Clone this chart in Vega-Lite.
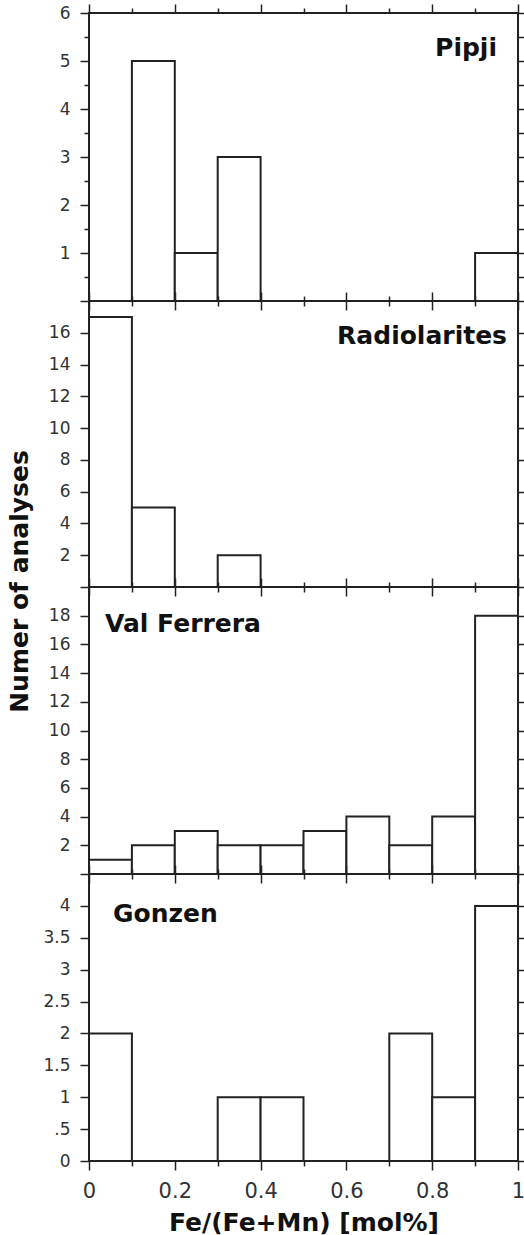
{
  "$schema": "https://vega.github.io/schema/vega-lite/v6.json",
  "padding": {"left": 6, "top": 2, "right": 0, "bottom": 0},
  "spacing": 0,
  "bounds": "flush",
  "config": {
    "font": "DejaVu Sans",
    "view": {"stroke": "#222", "strokeWidth": 2},
    "axis": {"grid": false, "domain": false, "tickColor": "#222", "tickWidth": 1.5, "labelColor": "#333", "labelFont": "DejaVu Sans", "labelFontSize": 17, "titleFont": "DejaVu Sans", "titleFontWeight": "bold", "titleFontSize": 25, "titleColor": "#111", "format": "~g"},
    "title": {"font": "DejaVu Sans", "fontSize": 25, "fontWeight": "bold", "color": "#111"}
  },
  "datasets": {
    "bins": [
      {"panel": "Pipji", "x0": 0.0, "x1": 0.1, "count": 0},
      {"panel": "Pipji", "x0": 0.1, "x1": 0.2, "count": 5},
      {"panel": "Pipji", "x0": 0.2, "x1": 0.3, "count": 1},
      {"panel": "Pipji", "x0": 0.3, "x1": 0.4, "count": 3},
      {"panel": "Pipji", "x0": 0.4, "x1": 0.5, "count": 0},
      {"panel": "Pipji", "x0": 0.5, "x1": 0.6, "count": 0},
      {"panel": "Pipji", "x0": 0.6, "x1": 0.7, "count": 0},
      {"panel": "Pipji", "x0": 0.7, "x1": 0.8, "count": 0},
      {"panel": "Pipji", "x0": 0.8, "x1": 0.9, "count": 0},
      {"panel": "Pipji", "x0": 0.9, "x1": 1.0, "count": 1},
      {"panel": "Radiolarites", "x0": 0.0, "x1": 0.1, "count": 17},
      {"panel": "Radiolarites", "x0": 0.1, "x1": 0.2, "count": 5},
      {"panel": "Radiolarites", "x0": 0.2, "x1": 0.3, "count": 0},
      {"panel": "Radiolarites", "x0": 0.3, "x1": 0.4, "count": 2},
      {"panel": "Radiolarites", "x0": 0.4, "x1": 0.5, "count": 0},
      {"panel": "Radiolarites", "x0": 0.5, "x1": 0.6, "count": 0},
      {"panel": "Radiolarites", "x0": 0.6, "x1": 0.7, "count": 0},
      {"panel": "Radiolarites", "x0": 0.7, "x1": 0.8, "count": 0},
      {"panel": "Radiolarites", "x0": 0.8, "x1": 0.9, "count": 0},
      {"panel": "Radiolarites", "x0": 0.9, "x1": 1.0, "count": 0},
      {"panel": "Val Ferrera", "x0": 0.0, "x1": 0.1, "count": 1},
      {"panel": "Val Ferrera", "x0": 0.1, "x1": 0.2, "count": 2},
      {"panel": "Val Ferrera", "x0": 0.2, "x1": 0.3, "count": 3},
      {"panel": "Val Ferrera", "x0": 0.3, "x1": 0.4, "count": 2},
      {"panel": "Val Ferrera", "x0": 0.4, "x1": 0.5, "count": 2},
      {"panel": "Val Ferrera", "x0": 0.5, "x1": 0.6, "count": 3},
      {"panel": "Val Ferrera", "x0": 0.6, "x1": 0.7, "count": 4},
      {"panel": "Val Ferrera", "x0": 0.7, "x1": 0.8, "count": 2},
      {"panel": "Val Ferrera", "x0": 0.8, "x1": 0.9, "count": 4},
      {"panel": "Val Ferrera", "x0": 0.9, "x1": 1.0, "count": 18},
      {"panel": "Gonzen", "x0": 0.0, "x1": 0.1, "count": 2},
      {"panel": "Gonzen", "x0": 0.1, "x1": 0.2, "count": 0},
      {"panel": "Gonzen", "x0": 0.2, "x1": 0.3, "count": 0},
      {"panel": "Gonzen", "x0": 0.3, "x1": 0.4, "count": 1},
      {"panel": "Gonzen", "x0": 0.4, "x1": 0.5, "count": 1},
      {"panel": "Gonzen", "x0": 0.5, "x1": 0.6, "count": 0},
      {"panel": "Gonzen", "x0": 0.6, "x1": 0.7, "count": 0},
      {"panel": "Gonzen", "x0": 0.7, "x1": 0.8, "count": 2},
      {"panel": "Gonzen", "x0": 0.8, "x1": 0.9, "count": 1},
      {"panel": "Gonzen", "x0": 0.9, "x1": 1.0, "count": 4}
    ]
  },
  "vconcat": [
    {
      "width": 429, "height": 288,
      "title": {"text": "Pipji", "anchor": "end", "frame": "group", "orient": "top", "baseline": "alphabetic", "offset": -78, "dx": -21},
      "data": {"name": "bins"},
      "transform": [{"filter": "datum.panel === 'Pipji'"}],
      "resolve": {"axis": {"x": "independent", "y": "independent"}},
      "layer": [
        {
          "mark": {"type": "rect", "fill": "white", "stroke": "#222", "strokeWidth": 2},
          "encoding": {
            "x": {"field": "x0", "type": "quantitative", "scale": {"domain": [0, 1], "nice": false, "zero": false},
                  "axis": {"orient": "bottom", "values": [0, 0.1, 0.2, 0.3, 0.4, 0.5, 0.6, 0.7, 0.8, 0.9, 1], "labels": false, "title": null,
                           "tickSize": {"condition": {"test": "round(datum.value*10) % 2 === 0", "value": 9}, "value": 5}}},
            "x2": {"field": "x1"},
            "y": {"field": "count", "type": "quantitative", "scale": {"domain": [0, 6], "nice": false},
                  "axis": {"orient": "left", "values": [0, 0.5, 1, 1.5, 2, 2.5, 3, 3.5, 4, 4.5, 5, 5.5, 6], "title": null, "labelPadding": 10,
                           "labelExpr": "datum.value % 1 === 0 && datum.value > 0 ? datum.label : ''",
                           "tickSize": {"condition": {"test": "datum.value % 1 === 0", "value": 9}, "value": 5}}},
            "y2": {"datum": 0}
          }
        },
        {
          "mark": {"type": "rect", "opacity": 0},
          "encoding": {
            "x": {"field": "x0", "type": "quantitative", "scale": {"domain": [0, 1], "nice": false, "zero": false},
                  "axis": {"orient": "top", "values": [0, 0.1, 0.2, 0.3, 0.4, 0.5, 0.6, 0.7, 0.8, 0.9, 1], "labels": false, "title": null,
                           "tickSize": {"condition": {"test": "round(datum.value*10) % 2 === 0", "value": 9}, "value": 5}}},
            "x2": {"field": "x1"},
            "y": {"field": "count", "type": "quantitative", "scale": {"domain": [0, 6], "nice": false},
                  "axis": {"orient": "right", "values": [0, 0.5, 1, 1.5, 2, 2.5, 3, 3.5, 4, 4.5, 5, 5.5, 6], "labels": false, "title": null, "tickSize": 6}},
            "y2": {"datum": 0}
          }
        }
      ]
    },
    {
      "width": 429, "height": 286,
      "title": {"text": "Radiolarites", "anchor": "end", "frame": "group", "orient": "top", "baseline": "alphabetic", "offset": -78, "dx": -11},
      "data": {"name": "bins"},
      "transform": [{"filter": "datum.panel === 'Radiolarites'"}],
      "resolve": {"axis": {"x": "independent", "y": "independent"}},
      "layer": [
        {
          "mark": {"type": "rect", "fill": "white", "stroke": "#222", "strokeWidth": 2},
          "encoding": {
            "x": {"field": "x0", "type": "quantitative", "scale": {"domain": [0, 1], "nice": false, "zero": false},
                  "axis": {"orient": "bottom", "values": [0, 0.1, 0.2, 0.3, 0.4, 0.5, 0.6, 0.7, 0.8, 0.9, 1], "labels": false, "title": null,
                           "tickSize": {"condition": {"test": "round(datum.value*10) % 2 === 0", "value": 9}, "value": 5}}},
            "x2": {"field": "x1"},
            "y": {"field": "count", "type": "quantitative", "scale": {"domain": [0, 18], "nice": false},
                  "axis": {"orient": "left", "values": [0, 2, 4, 6, 8, 10, 12, 14, 16], "title": "Numer of analyses", "labelPadding": 10,
                           "titleX": -57, "titleY": 280,
                           "labelExpr": "datum.value > 0 ? datum.label : ''", "tickSize": 9}},
            "y2": {"datum": 0}
          }
        },
        {
          "mark": {"type": "rect", "opacity": 0},
          "encoding": {
            "x": {"field": "x0", "type": "quantitative", "scale": {"domain": [0, 1], "nice": false, "zero": false},
                  "axis": {"orient": "top", "values": [0, 0.1, 0.2, 0.3, 0.4, 0.5, 0.6, 0.7, 0.8, 0.9, 1], "labels": false, "title": null,
                           "tickSize": {"condition": {"test": "round(datum.value*10) % 2 === 0", "value": 9}, "value": 5}}},
            "x2": {"field": "x1"},
            "y": {"field": "count", "type": "quantitative", "scale": {"domain": [0, 18], "nice": false},
                  "axis": {"orient": "right", "values": [0, 2, 4, 6, 8, 10, 12, 14, 16], "labels": false, "title": null, "tickSize": 6}},
            "y2": {"datum": 0}
          }
        }
      ]
    },
    {
      "width": 429, "height": 287,
      "title": {"text": "Val Ferrera", "anchor": "start", "frame": "group", "orient": "top", "baseline": "alphabetic", "offset": -80, "dx": 16},
      "data": {"name": "bins"},
      "transform": [{"filter": "datum.panel === 'Val Ferrera'"}],
      "resolve": {"axis": {"x": "independent", "y": "independent"}},
      "layer": [
        {
          "mark": {"type": "rect", "fill": "white", "stroke": "#222", "strokeWidth": 2},
          "encoding": {
            "x": {"field": "x0", "type": "quantitative", "scale": {"domain": [0, 1], "nice": false, "zero": false},
                  "axis": {"orient": "bottom", "values": [0, 0.1, 0.2, 0.3, 0.4, 0.5, 0.6, 0.7, 0.8, 0.9, 1], "labels": false, "title": null,
                           "tickSize": {"condition": {"test": "round(datum.value*10) % 2 === 0", "value": 9}, "value": 5}}},
            "x2": {"field": "x1"},
            "y": {"field": "count", "type": "quantitative", "scale": {"domain": [0, 20], "nice": false},
                  "axis": {"orient": "left", "values": [0, 2, 4, 6, 8, 10, 12, 14, 16, 18], "title": null, "labelPadding": 10,
                           "labelExpr": "datum.value > 0 ? datum.label : ''", "tickSize": 9}},
            "y2": {"datum": 0}
          }
        },
        {
          "mark": {"type": "rect", "opacity": 0},
          "encoding": {
            "x": {"field": "x0", "type": "quantitative", "scale": {"domain": [0, 1], "nice": false, "zero": false},
                  "axis": {"orient": "top", "values": [0, 0.1, 0.2, 0.3, 0.4, 0.5, 0.6, 0.7, 0.8, 0.9, 1], "labels": false, "title": null,
                           "tickSize": {"condition": {"test": "round(datum.value*10) % 2 === 0", "value": 9}, "value": 5}}},
            "x2": {"field": "x1"},
            "y": {"field": "count", "type": "quantitative", "scale": {"domain": [0, 20], "nice": false},
                  "axis": {"orient": "right", "values": [0, 2, 4, 6, 8, 10, 12, 14, 16, 18], "labels": false, "title": null, "tickSize": 6}},
            "y2": {"datum": 0}
          }
        }
      ]
    },
    {
      "width": 429, "height": 287,
      "title": {"text": "Gonzen", "anchor": "start", "frame": "group", "orient": "top", "baseline": "alphabetic", "offset": -83, "dx": 24},
      "data": {"name": "bins"},
      "transform": [{"filter": "datum.panel === 'Gonzen'"}],
      "resolve": {"axis": {"x": "independent", "y": "independent"}},
      "layer": [
        {
          "mark": {"type": "rect", "fill": "white", "stroke": "#222", "strokeWidth": 2},
          "encoding": {
            "x": {"field": "x0", "type": "quantitative", "scale": {"domain": [0, 1], "nice": false, "zero": false},
                  "axis": {"orient": "bottom", "values": [0, 0.1, 0.2, 0.3, 0.4, 0.5, 0.6, 0.7, 0.8, 0.9, 1], "format": ".1~f",
                           "labelExpr": "round(datum.value*10) % 2 === 0 ? datum.label : ''", "labelFontSize": 21, "labelPadding": 10, "labelFlush": false,
                           "title": "Fe/(Fe+Mn) [mol%]", "titleBaseline": "alphabetic", "titleY": 69,
                           "tickSize": {"condition": {"test": "round(datum.value*10) % 2 === 0", "value": 9}, "value": 5}}},
            "x2": {"field": "x1"},
            "y": {"field": "count", "type": "quantitative", "scale": {"domain": [0, 4.5], "nice": false},
                  "axis": {"orient": "left", "values": [0, 0.5, 1, 1.5, 2, 2.5, 3, 3.5, 4], "title": null, "labelPadding": 10,
                           "labelExpr": "datum.value === 0.5 ? '.5' : datum.label", "tickSize": 9}},
            "y2": {"datum": 0}
          }
        },
        {
          "mark": {"type": "rect", "opacity": 0},
          "encoding": {
            "x": {"field": "x0", "type": "quantitative", "scale": {"domain": [0, 1], "nice": false, "zero": false},
                  "axis": {"orient": "top", "values": [0, 0.1, 0.2, 0.3, 0.4, 0.5, 0.6, 0.7, 0.8, 0.9, 1], "labels": false, "title": null,
                           "tickSize": {"condition": {"test": "round(datum.value*10) % 2 === 0", "value": 9}, "value": 5}}},
            "x2": {"field": "x1"},
            "y": {"field": "count", "type": "quantitative", "scale": {"domain": [0, 4.5], "nice": false},
                  "axis": {"orient": "right", "values": [0, 0.5, 1, 1.5, 2, 2.5, 3, 3.5, 4], "labels": false, "title": null, "tickSize": 6}},
            "y2": {"datum": 0}
          }
        }
      ]
    }
  ]
}
